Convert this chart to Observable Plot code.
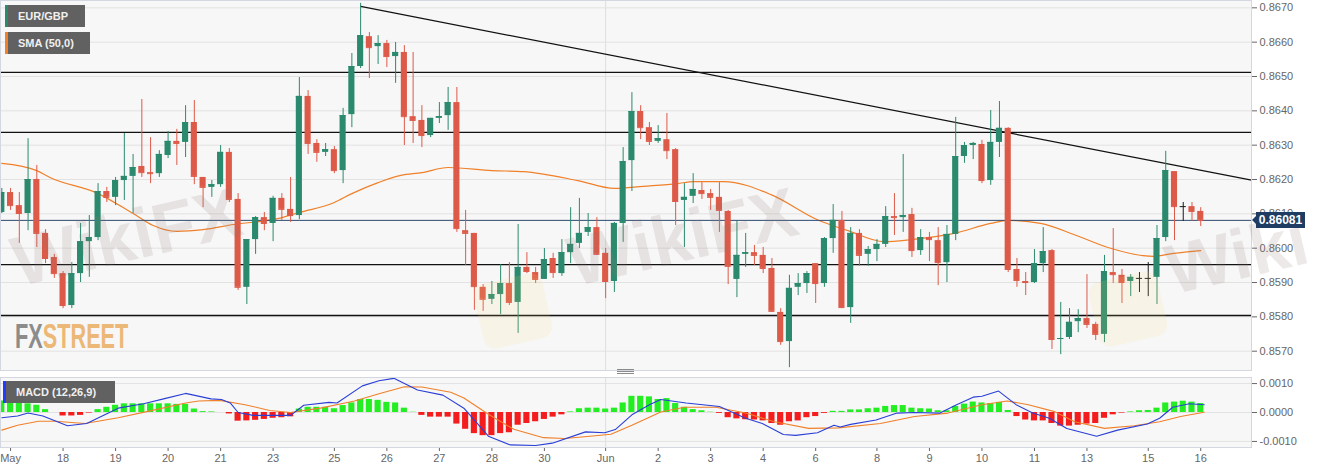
<!DOCTYPE html>
<html><head><meta charset="utf-8">
<script src="https://cdn.jsdelivr.net/npm/d3@7"></script>
<script src="https://cdn.jsdelivr.net/npm/@observablehq/plot@0.6"></script>
<style>
html,body{margin:0;padding:0;background:#fff;overflow:hidden;}
#wrap{position:relative;width:1323px;height:471px;font-family:"Liberation Sans",Arial,sans-serif;overflow:hidden;}
#wrap svg{display:block;}
.leg{position:absolute;height:22px;background:#616161;color:#f0f0f0;font-size:11px;font-weight:bold;line-height:22px;padding-left:10px;box-sizing:border-box;border-left:3px solid;white-space:nowrap;}
.wm{position:absolute;font-family:"Liberation Sans",Arial,sans-serif;font-weight:bold;font-size:70px;color:rgba(140,120,120,0.16);transform:rotate(-13deg);transform-origin:left bottom;white-space:nowrap;pointer-events:none;}
.logo{position:absolute;width:70px;height:66px;border-radius:12px;background:rgba(245,215,120,0.13);transform:rotate(-13deg);}
#fx{position:absolute;left:15px;top:316px;font-size:35px;font-weight:bold;transform:scaleX(0.62);transform-origin:left top;letter-spacing:0px;white-space:nowrap;}
#pricebox{position:absolute;left:1256px;width:49px;height:16px;background:#1f3d63;color:#fff;font-size:12px;font-weight:bold;line-height:16px;text-align:center;}
#pricebox:before{content:"";position:absolute;left:-4px;top:4px;border-top:4px solid transparent;border-bottom:4px solid transparent;border-right:4px solid #1f3d63;}
#handle{position:absolute;left:617px;top:369px;width:17px;height:5px;background:repeating-linear-gradient(#8a8a8a 0 1px,transparent 1px 2px);}
</style></head><body><div id="wrap"></div><script>
// ---- data (4h candles, index 0..137) ----
const opens = [0.86104,0.86162,0.86124,0.86101,0.86200,0.86043,0.85973,0.85926,0.85833,0.85926,
0.86019,0.86031,0.86165,0.86148,0.86197,0.86209,0.86238,0.86220,0.86217,0.86270,
0.86311,0.86308,0.86366,0.86206,0.86177,0.86185,0.86279,0.86142,0.85886,0.86025,
0.86089,0.86072,0.86145,0.86113,0.86095,0.86442,0.86305,0.86279,0.86287,0.86226,
0.86389,0.86529,0.86616,0.86587,0.86596,0.86558,0.86570,0.86383,0.86372,0.86328,
0.86378,0.86386,0.86424,0.86051,0.86043,0.85886,0.85851,0.85865,0.85897,0.85842,
0.85944,0.85929,0.85909,0.85970,0.85926,0.85987,0.86014,0.86046,0.86060,0.85985,
0.85903,0.86072,0.86255,0.86398,0.86351,0.86311,0.86316,0.86287,0.86139,0.86151,
0.86168,0.86159,0.86148,0.86107,0.85909,0.85982,0.85987,0.85979,0.85941,0.85813,
0.85728,0.85886,0.85897,0.85955,0.85897,0.86028,0.86081,0.85827,0.86043,0.85982,
0.85996,0.86011,0.86092,0.86089,0.86098,0.85993,0.86031,0.86022,0.85958,0.86040,
0.86267,0.86299,0.86302,0.86197,0.86308,0.86349,0.85938,0.85903,0.85900,0.85955,
0.85993,0.85734,0.85740,0.85786,0.85795,0.85778,0.85749,0.85929,0.85921,0.85903,
0.85912,0.85912,0.85915,0.86031,0.86223,0.86121,0.86121,0.86107];
const highs = [0.86174,0.86174,0.86162,0.86319,0.86241,0.86054,0.85982,0.85932,0.85958,0.86072,
0.86095,0.86188,0.86177,0.86206,0.86334,0.86273,0.86433,0.86322,0.86284,0.86340,
0.86346,0.86415,0.86430,0.86206,0.86197,0.86299,0.86290,0.86159,0.86025,0.86092,
0.86104,0.86151,0.86159,0.86206,0.86497,0.86459,0.86316,0.86305,0.86296,0.86407,
0.86567,0.86713,0.86628,0.86619,0.86605,0.86599,0.86590,0.86570,0.86415,0.86378,
0.86424,0.86468,0.86468,0.86110,0.86043,0.85894,0.85903,0.85952,0.85958,0.86069,
0.85987,0.85944,0.85999,0.85985,0.86025,0.86118,0.86145,0.86101,0.86089,0.85999,
0.86075,0.86293,0.86453,0.86415,0.86366,0.86357,0.86392,0.86290,0.86188,0.86217,
0.86191,0.86171,0.86191,0.86110,0.86078,0.86043,0.86008,0.86002,0.85970,0.85824,
0.85921,0.85926,0.85932,0.85955,0.86031,0.86127,0.86107,0.86060,0.86054,0.86005,
0.86025,0.86121,0.86159,0.86273,0.86116,0.86054,0.86046,0.86060,0.86066,0.86381,
0.86308,0.86308,0.86314,0.86401,0.86427,0.86351,0.85970,0.85929,0.85996,0.86060,
0.85996,0.85842,0.85824,0.85821,0.85923,0.85784,0.85979,0.86057,0.85938,0.85923,
0.85929,0.85958,0.86066,0.86282,0.86223,0.86133,0.86133,0.86118];
const lows = [0.86101,0.86110,0.86014,0.86051,0.86002,0.85955,0.85912,0.85824,0.85824,0.85900,
0.85915,0.86022,0.86133,0.86124,0.86139,0.86101,0.86206,0.86188,0.86206,0.86261,
0.86241,0.86264,0.86185,0.86118,0.86148,0.86177,0.86133,0.85877,0.85836,0.85982,
0.86051,0.86019,0.86081,0.86075,0.86083,0.86273,0.86250,0.86267,0.86217,0.86188,
0.86351,0.86523,0.86494,0.86535,0.86526,0.86480,0.86299,0.86305,0.86293,0.86322,
0.86363,0.86343,0.86046,0.85950,0.85819,0.85816,0.85836,0.85807,0.85833,0.85752,
0.85926,0.85897,0.85909,0.85912,0.85918,0.85955,0.85999,0.86034,0.85979,0.85853,
0.85871,0.86017,0.86165,0.86316,0.86299,0.86305,0.86258,0.86066,0.86002,0.86130,
0.86142,0.86110,0.86046,0.85894,0.85856,0.85944,0.85950,0.85926,0.85813,0.85717,
0.85652,0.85862,0.85868,0.85839,0.85886,0.85985,0.85824,0.85781,0.85947,0.85947,
0.85961,0.86002,0.86037,0.86046,0.85973,0.85979,0.85961,0.85891,0.85900,0.86022,
0.86247,0.86258,0.86188,0.86183,0.86264,0.85929,0.85886,0.85862,0.85897,0.85929,
0.85705,0.85690,0.85734,0.85754,0.85766,0.85731,0.85725,0.85897,0.85839,0.85859,
0.85871,0.85859,0.85836,0.86019,0.86022,0.86078,0.86078,0.86063];
const closes = [0.86162,0.86124,0.86101,0.86200,0.86043,0.85970,0.85926,0.85833,0.85926,0.86019,
0.86031,0.86165,0.86148,0.86197,0.86209,0.86235,0.86220,0.86217,0.86273,0.86311,
0.86305,0.86366,0.86209,0.86177,0.86185,0.86279,0.86142,0.85886,0.86025,0.86089,
0.86072,0.86145,0.86113,0.86095,0.86442,0.86305,0.86279,0.86287,0.86226,0.86386,
0.86529,0.86619,0.86584,0.86596,0.86558,0.86570,0.86383,0.86372,0.86328,0.86378,
0.86383,0.86424,0.86057,0.86043,0.85888,0.85851,0.85865,0.85897,0.85842,0.85944,
0.85932,0.85909,0.85967,0.85929,0.85987,0.86011,0.86043,0.86060,0.85982,0.85903,
0.86072,0.86252,0.86398,0.86351,0.86311,0.86319,0.86284,0.86136,0.86148,0.86171,
0.86159,0.86148,0.86110,0.85947,0.85979,0.85987,0.85979,0.85941,0.85816,0.85728,
0.85883,0.85897,0.85926,0.85897,0.86028,0.86081,0.85827,0.86043,0.85979,0.85996,
0.86011,0.86092,0.86089,0.86095,0.85993,0.86031,0.86025,0.85958,0.86040,0.86267,
0.86299,0.86305,0.86197,0.86308,0.86349,0.85938,0.85906,0.85900,0.85955,0.85990,
0.85734,0.85737,0.85784,0.85795,0.85778,0.85749,0.85932,0.85923,0.85900,0.85915,
0.85912,0.85912,0.86028,0.86226,0.86121,0.86121,0.86107,0.86081];

const smaIdx = [0,4,5.5,11,15,17.3,20,23,26.5,31.5,34,38,40,43,45.6,48,51,56,59.6,65.8,70,73.3,77.2,79,82.5,87.9,93.2,96.7,100.8,103.9,108.8,113,115,118.7,122.5,126.4,131.6,133.9,137];
const smaVal = [0.86247,0.86226,0.86206,0.86159,0.86101,0.86066,0.86049,0.86054,0.86069,0.86086,0.86104,0.86133,0.86159,0.86191,0.86212,0.86220,0.86235,0.86226,0.86223,0.86197,0.86174,0.86180,0.86188,0.86194,0.86194,0.86156,0.86083,0.86051,0.86019,0.86025,0.86043,0.86072,0.86081,0.86072,0.86040,0.86002,0.85976,0.85985,0.85993];

const levels = [0.86512, 0.86337, 0.85952, 0.85804];
const trendIdx = [41, 142.8];
const trendVal = [0.86704, 0.86198];
const lastPrice = 0.86081;
const priceTicks = [0.8570,0.8580,0.8590,0.8600,0.8610,0.8620,0.8630,0.8640,0.8650,0.8660,0.8670];

const histVal = [0.00040,0.00035,0.00035,0.00030,0.00025,0.00010,0.00000,-0.00012,-0.00012,-0.00010,
-0.00002,0.00010,0.00018,0.00025,0.00030,0.00030,0.00030,0.00030,0.00030,0.00030,
0.00028,0.00028,0.00012,0.00003,0.00002,0.00000,-0.00005,-0.00030,-0.00029,-0.00027,
-0.00024,-0.00020,-0.00018,-0.00015,0.00012,0.00018,0.00018,0.00018,0.00013,0.00024,
0.00033,0.00045,0.00045,0.00042,0.00035,0.00033,0.00015,0.00001,-0.00010,-0.00016,
-0.00016,-0.00016,-0.00040,-0.00058,-0.00073,-0.00080,-0.00080,-0.00073,-0.00070,-0.00044,
-0.00038,-0.00032,-0.00024,-0.00016,-0.00008,0.00002,0.00013,0.00015,0.00015,0.00012,
0.00015,0.00033,0.00056,0.00056,0.00054,0.00045,0.00048,0.00031,0.00018,0.00010,
0.00006,0.00001,-0.00003,-0.00018,-0.00022,-0.00025,-0.00026,-0.00029,-0.00038,-0.00044,
-0.00032,-0.00029,-0.00018,-0.00014,-0.00003,0.00004,0.00004,0.00009,0.00009,0.00013,
0.00015,0.00021,0.00024,0.00024,0.00015,0.00013,0.00012,0.00006,0.00006,0.00021,
0.00029,0.00036,0.00033,0.00031,0.00035,0.00007,-0.00014,-0.00026,-0.00029,-0.00029,
-0.00038,-0.00047,-0.00047,-0.00044,-0.00040,-0.00038,-0.00020,-0.00008,-0.00002,0.00002,
0.00006,0.00007,0.00015,0.00033,0.00036,0.00039,0.00036,0.00031];

const macdIdx = [0,1.8,3,4.7,7.5,9.7,13.3,16.2,18.6,21,23.9,25.1,26.1,27,28.7,33,34.5,37.4,38.3,41.2,43.1,44.8,47.5,50.4,52.8,55.6,58.1,61,62.9,66.7,68.9,70.1,72,74,75.3,78.2,82,85,86.9,89.3,90.7,93.2,95.1,95.8,97,99.9,102.3,104.3,107.2,109.1,111,112,113.9,115.9,117.8,119.7,121.7,125.1,127.5,130.9,132.3,133.8,135.7,137.4];
const macdVal = [-0.00018,-0.00012,-0.00002,-0.00012,-0.00046,-0.00038,0.00015,0.00030,0.00048,0.00066,0.00047,0.00045,0.00033,0.00000,-0.00010,-0.00010,0.00025,0.00035,0.00033,0.00092,0.00110,0.00118,0.00078,0.00060,0.00015,-0.00082,-0.00112,-0.00114,-0.00106,-0.00067,-0.00070,-0.00059,-0.00008,0.00027,0.00045,0.00033,0.00021,-0.00020,-0.00038,-0.00076,-0.00079,-0.00070,-0.00044,-0.00050,-0.00041,-0.00026,-0.00002,0.00000,-0.00002,0.00027,0.00053,0.00056,0.00074,0.00027,-0.00002,-0.00020,-0.00055,-0.00082,-0.00061,-0.00040,-0.00020,0.00018,0.00030,0.00027];
const signalIdx = [0,1.8,4.2,6.1,9.5,13.3,16.7,21,22.5,24.9,27.8,30.6,33,36.4,40.3,43.1,46,48,51.3,52.8,55.6,58.5,61.9,64.3,67.2,69.6,72,75.3,78,81.6,85,88.3,92.2,95.6,100.4,104.3,108.1,112,114.9,117.3,120.2,122.6,126,129.4,132.3,134.7,137.4];
const signalVal = [-0.00061,-0.00044,-0.00030,-0.00030,-0.00038,-0.00018,0.00004,0.00033,0.00040,0.00042,0.00027,0.00007,0.00000,0.00015,0.00040,0.00065,0.00089,0.00088,0.00070,0.00050,-0.00006,-0.00058,-0.00087,-0.00090,-0.00082,-0.00075,-0.00044,0.00002,0.00018,0.00018,-0.00002,-0.00032,-0.00055,-0.00053,-0.00038,-0.00014,-0.00002,0.00027,0.00040,0.00027,0.00004,-0.00032,-0.00055,-0.00046,-0.00032,-0.00014,0.00001];
const macdTicks = [-0.0010, 0.0000, 0.0010];

const dateTicks = [1,7,13,19,25,31,38,44,50,56,62,69,75,81,87,93,100,106,112,118,124,131,137];
const dateLabels = ["May","18","19","20","21","23","25","26","27","28","30","Jun","2","3","4","6","8","9","10","11","13","15","16"];
const monthStart = [69];

// ---- build ----
const UP = "#2b8a6e", DOWN = "#dd5a48", FLAT = "#1a1a1a", SMA = "#f0802a";
const HUP = "#22ee22", HDN = "#f41c1c", MBLUE = "#2a3fd6";
const FONT = '"Liberation Sans", Arial, sans-serif';
const W = 1323, MR = 72;
const xDomain = [-0.15, 142.8];
const halfW = 0.35;

const candles = opens.map((o, i) => ({i, o, h: highs[i], l: lows[i], c: closes[i]}));
const col = d => d.c > d.o ? UP : d.c < d.o ? DOWN : FLAT;
const sma = smaIdx.map((i, k) => ({i, v: smaVal[k]}));
const trend = trendIdx.map((i, k) => ({i, v: trendVal[k]}));
const hist = histVal.map((v, i) => ({i, v}));
const macd = macdIdx.map((i, k) => ({i, v: macdVal[k]}));
const signal = signalIdx.map((i, k) => ({i, v: signalVal[k]}));
const labelMap = new Map(dateTicks.map((t, k) => [t, dateLabels[k]]));
const fmt4 = d => d3.format(".4f")(d).replace("−", "-");

const main = Plot.plot({
  width: W, height: 372, marginLeft: 0, marginRight: MR, marginTop: 0, marginBottom: 2,
  style: {background: "#fff", fontFamily: FONT, fontSize: "11px", color: "#666", overflow: "visible"},
  color: {type: "identity"},
  x: {domain: xDomain, axis: null},
  y: {domain: [0.856438, 0.867213], axis: "right", ticks: priceTicks, tickFormat: fmt4, tickSize: 5, tickPadding: 3, label: null},
  marks: [
    Plot.frame({fill: "#f7f7f7", stroke: null}),
    Plot.ruleY(priceTicks, {stroke: "#e2e2e2"}),
    Plot.ruleX(monthStart, {stroke: "#dedede"}),
    Plot.ruleY(levels, {stroke: "#111", strokeWidth: 1.3}),
    Plot.line(sma, {x: "i", y: "v", stroke: SMA, strokeWidth: 1.2, curve: "monotone-x"}),
    Plot.line(trend, {x: "i", y: "v", stroke: "#111", strokeWidth: 1.2}),
    Plot.ruleY([lastPrice], {stroke: "#2d4a70", strokeWidth: 1}),
    Plot.ruleX(candles, {x: "i", y1: "l", y2: "h", stroke: col, strokeWidth: 1}),
    Plot.rect(candles, {x1: d => d.i - halfW, x2: d => d.i + halfW, y1: "o", y2: "c", fill: col}),
    Plot.ruleY(candles, {y: "c", x1: d => d.i - halfW, x2: d => d.i + halfW, stroke: col, strokeWidth: 1}),
    Plot.frame({stroke: "#d3d8e0"})
  ]
});

const sub = Plot.plot({
  width: W, height: 99, marginLeft: 0, marginRight: MR, marginTop: 5, marginBottom: 24,
  style: {background: "#fff", fontFamily: FONT, fontSize: "11px", color: "#666", overflow: "visible"},
  color: {type: "identity"},
  x: {domain: xDomain, ticks: dateTicks, tickFormat: t => labelMap.get(t), tickSize: 4, tickPadding: 3, label: null},
  y: {domain: [-0.00121, 0.00121], axis: "right", ticks: macdTicks, tickFormat: fmt4, tickSize: 5, tickPadding: 3, label: null},
  marks: [
    Plot.frame({fill: "#f7f7f7", stroke: null}),
    Plot.ruleY(macdTicks, {stroke: "#e2e2e2"}),
    Plot.ruleX(monthStart, {stroke: "#dedede"}),
    Plot.rect(hist, {x1: d => d.i - halfW, x2: d => d.i + halfW, y1: d => 0, y2: "v", fill: d => d.v >= 0 ? HUP : HDN}),
    Plot.line(signal, {x: "i", y: "v", stroke: SMA, strokeWidth: 1.1}),
    Plot.line(macd, {x: "i", y: "v", stroke: MBLUE, strokeWidth: 1.1}),
    Plot.frame({stroke: "#d3d8e0"})
  ]
});

const wrap = document.getElementById("wrap");
wrap.appendChild(main);
wrap.appendChild(sub);

function addDiv(cls, html, css) {
  const d = document.createElement("div");
  if (cls) d.className = cls;
  d.innerHTML = html;
  Object.assign(d.style, css);
  wrap.appendChild(d);
  return d;
}
// watermarks
addDiv("logo", "", {left: "478px", top: "278px"});
addDiv("logo", "", {left: "1093px", top: "276px"});
addDiv("wm", "WikiFX", {left: "22px", top: "222px"});
addDiv("wm", "WikiFX", {left: "578px", top: "222px"});
addDiv("wm", "Wiki", {left: "1176px", top: "230px"});
addDiv(null, '<span style="color:#8c8c8c">FX</span><span style="color:#ecb877">STREET</span>', {}).id = "fx";
// legends
addDiv("leg", "EUR/GBP", {left: "5px", top: "5px", width: "80px", borderLeftColor: UP});
addDiv("leg", "SMA (50,0)", {left: "5px", top: "32px", width: "85px", borderLeftColor: SMA});
addDiv("leg", "MACD (12,26,9)", {left: "3px", top: "381px", width: "112px", borderLeftColor: "#1f3cff"});
// last price label
const yLast = main.scale("y").apply(lastPrice);
addDiv(null, d3.format(".5f")(lastPrice), {top: (yLast - 8) + "px"}).id = "pricebox";
addDiv(null, "", {}).id = "handle";
</script></body></html>
